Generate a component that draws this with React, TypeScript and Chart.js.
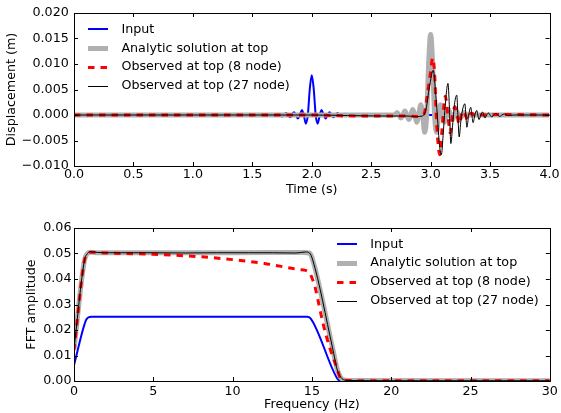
import React, { useEffect, useRef } from 'react';
import { Chart, registerables } from 'chart.js';

Chart.register(...registerables);

// ---------------- Labels ----------------
const seriesLabels = [
  'Input',
  'Analytic solution at top',
  'Observed at top (8 node)',
  'Observed at top (27 node)',
];

// ---------------- Top panel: displacement vs time ----------------
const inputTime = [0, 1.7, 1.717, 1.733, 1.75, 1.767, 1.783, 1.8, 1.817, 1.833, 1.85, 1.867, 1.883, 1.9, 1.917, 1.933, 1.95, 1.967, 1.983, 2.0, 2.017, 2.033, 2.05, 2.067, 2.083, 2.1, 2.117, 2.133, 2.15, 2.167, 2.183, 2.2, 2.217, 2.233, 2.25, 2.267, 2.283, 2.3, 4.0];
const inputDisp = [0, 0, 0.00025, 0, -0.0003, 0, 0.0004, 0, -0.00045, 0, 0.00055, 0, -0.0007, 0, 0.001, 0, -0.0017, 0, 0.005, 0.0078, 0.005, 0, -0.0017, 0, 0.001, 0, -0.0007, 0, 0.00055, 0, -0.00045, 0, 0.0004, 0, -0.0003, 0, 0.00025, 0, 0];

const analyticTime = [0, 2.7, 2.717, 2.733, 2.75, 2.767, 2.783, 2.8, 2.817, 2.833, 2.85, 2.867, 2.883, 2.9, 2.917, 2.933, 2.95, 2.967, 2.983, 3.0, 3.017, 3.033, 3.05, 3.067, 3.083, 3.1, 3.117, 3.133, 3.15, 3.167, 3.183, 3.2, 3.217, 3.233, 3.25, 3.267, 3.283, 3.3, 4.0];
const analyticDisp = [0, 0, 0.0005, 0, -0.0006, 0, 0.0008, 0, -0.0009, 0, 0.0011, 0, -0.0014, 0, 0.002, 0, -0.0034, 0, 0.01, 0.0158, 0.01, 0, -0.0034, 0, 0.002, 0, -0.0014, 0, 0.0011, 0, -0.0009, 0, 0.0008, 0, -0.0006, 0, 0.0005, 0, 0];

const obs8Time = [0, 1.0, 2.0, 2.2, 2.5, 2.8, 2.9, 2.93, 2.95, 2.97, 3.0, 3.017, 3.035, 3.047, 3.06, 3.076, 3.1, 3.123, 3.145, 3.165, 3.185, 3.205, 3.222, 3.24, 3.258, 3.275, 3.292, 3.31, 3.328, 3.345, 3.365, 3.385, 3.42, 3.6, 4.0];
const obs8Disp = [0, 0, 0, -0.0001, -0.0002, -0.0002, -0.0003, -0.0001, 0.0006, 0.0036, 0.0085, 0.0112, 0.0075, 0, -0.0049, -0.0078, -0.0016, 0.0037, 0, -0.0035, 0, 0.0016, 0, -0.0018, 0, 0.0008, 0, -0.0009, 0, 0.0004, 0, -0.0003, 0, 0.0001, 0];

const obs27Time = [0, 1.0, 2.0, 2.3, 2.6, 2.8, 2.88, 2.93, 2.96, 2.99, 3.022, 3.04, 3.056, 3.075, 3.09, 3.105, 3.12, 3.146, 3.157, 3.17, 3.185, 3.2, 3.22, 3.229, 3.24, 3.255, 3.27, 3.288, 3.296, 3.305, 3.32, 3.338, 3.347, 3.357, 3.372, 3.388, 3.397, 3.407, 3.422, 3.437, 3.447, 3.457, 3.472, 3.487, 3.5, 3.515, 3.53, 3.55, 3.565, 3.58, 3.6, 3.62, 3.65, 3.7, 4.0];
const obs27Disp = [0, 0, 0, -0.0001, -0.0002, -0.0002, -0.0003, -0.0002, 0.001, 0.0055, 0.0088, 0.005, 0, -0.006, -0.0078, -0.004, 0.001, 0.0062, 0.002, -0.0056, -0.002, 0.002, 0.0039, 0, -0.0043, -0.001, 0.0012, 0.0022, 0, -0.0024, 0, 0.0015, 0, -0.0015, 0, 0.0009, 0, -0.0009, 0, 0.0006, 0, -0.0006, 0, 0.0004, 0, -0.0004, 0, 0.0003, 0, -0.0003, 0, 0.0002, -0.0001, 0, 0];

// ---------------- Bottom panel: FFT amplitude vs frequency ----------------
const inputFreq = [0, 0.75, 0.9, 1.1, 5, 10, 14.7, 14.9, 16.55, 16.75, 17, 30];
const inputAmp = [0.0062, 0.0238, 0.0249, 0.0252, 0.0252, 0.0252, 0.0252, 0.0247, 0.0015, 0.0001, 0, 0];

const analyticFreq = [0, 0.65, 0.85, 1.05, 1.5, 5, 10, 14.5, 14.85, 15.05, 16.3, 16.6, 16.9, 17.3, 30];
const analyticAmp = [0.0125, 0.047, 0.05, 0.0505, 0.0503, 0.0503, 0.0503, 0.0504, 0.0502, 0.0475, 0.013, 0.0045, 0.0008, 0.0002, 0.0001];

const obs8Freq = [0, 0.65, 0.85, 1.05, 2, 5, 8, 10, 12, 14.2, 14.8, 15.0, 15.2, 15.4, 15.7, 16.1, 16.55, 16.8, 17.2, 20, 30];
const obs8Amp = [0.012, 0.047, 0.0498, 0.0505, 0.0502, 0.0497, 0.0487, 0.0476, 0.0461, 0.0437, 0.0428, 0.0405, 0.0368, 0.0312, 0.0226, 0.0135, 0.0056, 0.0012, 0.0002, 0.0001, 0.0001];

const obs27Freq = [0, 0.65, 0.85, 1.05, 1.5, 3, 5, 7, 9, 11, 12.5, 14, 14.6, 14.85, 15.05, 16.3, 16.6, 16.9, 17.3, 20, 30];
const obs27Amp = [0.0125, 0.047, 0.05, 0.0507, 0.0504, 0.0503, 0.0503, 0.0502, 0.0503, 0.0503, 0.0503, 0.0502, 0.0506, 0.0502, 0.0475, 0.013, 0.0043, 0.0009, 0.0002, 0.0001, 0.0001];

// ---------------- Styling ----------------
const FONT = { family: '"DejaVu Sans", sans-serif', size: 12.7 };
const FONT_CSS = '12.7px "DejaVu Sans", sans-serif';

const seriesStyles = [
  { borderColor: '#0000ff', borderWidth: 2, borderDash: [] as number[], order: 3 },
  { borderColor: '#b0b0b0', borderWidth: 5, borderDash: [] as number[], order: 2 },
  { borderColor: '#ff0000', borderWidth: 3, borderDash: [6.5, 6], order: 1 },
  { borderColor: '#000000', borderWidth: 1, borderDash: [] as number[], order: 0 },
];

function toPoints(xs: number[], ys: number[]) {
  return xs.map((x, i) => ({ x, y: ys[i] }));
}

function makeDatasets(series: [number[], number[]][]) {
  return series.map(([xs, ys], i) => ({
    label: seriesLabels[i],
    data: toPoints(xs, ys),
    borderColor: seriesStyles[i].borderColor,
    borderWidth: seriesStyles[i].borderWidth,
    borderDash: seriesStyles[i].borderDash,
    order: seriesStyles[i].order,
    pointRadius: 0,
    fill: false,
    cubicInterpolationMode: 'monotone' as const,
    borderJoinStyle: 'round' as const,
    borderCapStyle: 'butt' as const,
  }));
}

function fmt(v: number, d: number) {
  const neg = v < -1e-12;
  return (neg ? '\u2212' : '') + Math.abs(v).toFixed(d);
}

// Frame + inward ticks on all four sides
const framePlugin = {
  id: 'frameTicks',
  afterDatasetsDraw(chart: any) {
    const { ctx, chartArea } = chart;
    const { left, right, top, bottom } = chartArea;
    const xs = chart.scales.x;
    const ys = chart.scales.y;
    const L = 4;
    ctx.save();
    ctx.strokeStyle = '#000';
    ctx.lineWidth = 1;
    ctx.setLineDash([]);
    ctx.beginPath();
    xs.ticks.forEach((t: any) => {
      const px = Math.round(xs.getPixelForValue(t.value)) + 0.5;
      ctx.moveTo(px, bottom);
      ctx.lineTo(px, bottom - L);
      ctx.moveTo(px, top);
      ctx.lineTo(px, top + L);
    });
    ys.ticks.forEach((t: any) => {
      const py = Math.round(ys.getPixelForValue(t.value)) + 0.5;
      ctx.moveTo(left, py);
      ctx.lineTo(left + L, py);
      ctx.moveTo(right, py);
      ctx.lineTo(right - L, py);
    });
    ctx.stroke();
    ctx.strokeRect(Math.round(left) + 0.5, Math.round(top) + 0.5, Math.round(right - left), Math.round(bottom - top));
    ctx.restore();
  },
};

// Legend drawn inside the plot area
const innerLegend = {
  id: 'innerLegend',
  afterDraw(chart: any, _args: any, opts: any) {
    const { ctx, chartArea } = chart;
    const x0 = Math.round(chartArea.left + opts.dx);
    const y0 = chartArea.top + opts.dy;
    ctx.save();
    chart.data.datasets.forEach((ds: any, i: number) => {
      const yText = y0 + i * opts.rowGap;
      const w = ds.borderWidth;
      const yLine = w % 2 === 1 ? Math.round(yText) + 0.5 : Math.round(yText);
      ctx.beginPath();
      ctx.strokeStyle = ds.borderColor;
      ctx.lineWidth = w;
      ctx.setLineDash(ds.borderDash || []);
      ctx.lineCap = 'butt';
      ctx.moveTo(x0, yLine);
      ctx.lineTo(x0 + opts.sampleLen, yLine);
      ctx.stroke();
      ctx.setLineDash([]);
      ctx.fillStyle = '#000';
      ctx.font = FONT_CSS;
      ctx.textBaseline = 'middle';
      ctx.textAlign = 'left';
      ctx.fillText(ds.label, x0 + opts.textGap, yText);
    });
    ctx.restore();
  },
};

function xScale(min: number, max: number, step: number, dec: number, title: string, tickPad: number, titlePad: number, height: number) {
  return {
    type: 'linear' as const,
    position: 'bottom' as const,
    min,
    max,
    ticks: {
      stepSize: step,
      autoSkip: false,
      maxRotation: 0,
      minRotation: 0,
      padding: tickPad,
      color: '#000',
      font: FONT,
      callback: (v: any) => fmt(Number(v), dec),
    },
    grid: { display: false, drawTicks: false },
    border: { display: false },
    title: { display: true, text: title, color: '#000', font: FONT, padding: { top: 0, bottom: titlePad } },
    afterFit: (s: any) => { s.height = height; },
  };
}

function yScale(min: number, max: number, step: number, dec: number, title: string, tickPad: number, titlePad: number, width: number) {
  return {
    type: 'linear' as const,
    position: 'left' as const,
    min,
    max,
    ticks: {
      stepSize: step,
      autoSkip: false,
      padding: tickPad,
      color: '#000',
      font: FONT,
      callback: (v: any) => fmt(Number(v), dec),
    },
    grid: { display: false, drawTicks: false },
    border: { display: false },
    title: { display: true, text: title, color: '#000', font: FONT, padding: { top: titlePad, bottom: 0 } },
    afterFit: (s: any) => { s.width = width; },
  };
}

function topConfig(): any {
  return {
    type: 'line',
    data: {
      datasets: makeDatasets([
        [inputTime, inputDisp],
        [analyticTime, analyticDisp],
        [obs8Time, obs8Disp],
        [obs27Time, obs27Disp],
      ]),
    },
    options: {
      responsive: false,
      animation: false,
      devicePixelRatio: 1,
      events: [],
      layout: { padding: { left: 0, right: 11, top: 13, bottom: 0 } },
      scales: {
        x: xScale(0, 4, 0.5, 1, 'Time (s)', 1.4, 2.4, 34),
        y: yScale(-0.01, 0.02, 0.005, 3, 'Displacement (m)', 5.2, 4.5, 74),
      },
      plugins: {
        legend: { display: false },
        tooltip: { enabled: false },
        innerLegend: { dx: 14.3, dy: 16.3, rowGap: 18.9, sampleLen: 20, textGap: 33.4 },
      },
    },
    plugins: [framePlugin, innerLegend],
  };
}

function bottomConfig(): any {
  return {
    type: 'line',
    data: {
      datasets: makeDatasets([
        [inputFreq, inputAmp],
        [analyticFreq, analyticAmp],
        [obs8Freq, obs8Amp],
        [obs27Freq, obs27Amp],
      ]),
    },
    options: {
      responsive: false,
      animation: false,
      devicePixelRatio: 1,
      events: [],
      layout: { padding: { left: 0, right: 11, top: 28, bottom: 0 } },
      scales: {
        x: xScale(0, 30, 5, 0, 'Frequency (Hz)', 3.1, 0.4, 32),
        y: yScale(0, 0.06, 0.01, 2, 'FFT amplitude', 2.5, 24, 74),
      },
      plugins: {
        legend: { display: false },
        tooltip: { enabled: false },
        innerLegend: { dx: 263, dy: 16.3, rowGap: 18.8, sampleLen: 20, textGap: 33.3 },
      },
    },
    plugins: [framePlugin, innerLegend],
  };
}

export default function App() {
  const topRef = useRef<HTMLCanvasElement>(null);
  const botRef = useRef<HTMLCanvasElement>(null);

  useEffect(() => {
    const c1 = new Chart(topRef.current as HTMLCanvasElement, topConfig());
    const c2 = new Chart(botRef.current as HTMLCanvasElement, bottomConfig());
    return () => {
      c1.destroy();
      c2.destroy();
    };
  }, []);

  return (
    <div style={{ position: 'absolute', left: 0, top: 0, width: 561, height: 413, background: '#fff' }}>
      <canvas ref={topRef} width={561} height={200} style={{ position: 'absolute', left: 0, top: 0, width: 561, height: 200 }} />
      <canvas ref={botRef} width={561} height={213} style={{ position: 'absolute', left: 0, top: 200, width: 561, height: 213 }} />
    </div>
  );
}
